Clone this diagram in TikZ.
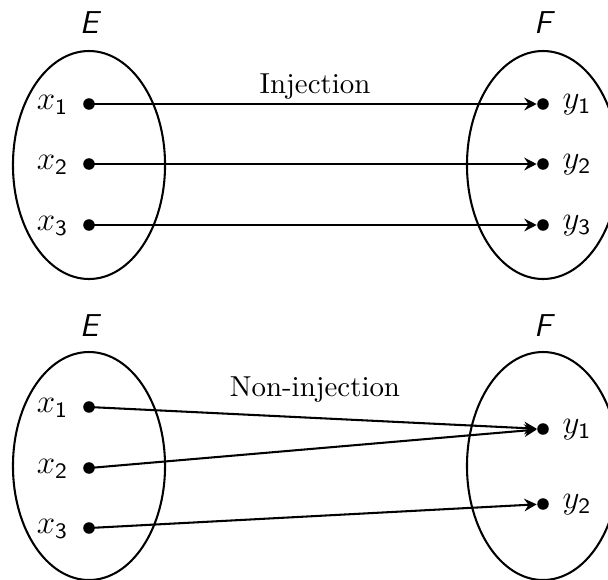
\documentclass[tikz,border=0pt]{standalone}
\usetikzlibrary{shapes.geometric,arrows.meta}
\begin{document}
\begin{tikzpicture}[x=0.3636pt,y=-0.3636pt,
  set/.style={draw,ellipse,line width=0.75pt,minimum width=55.3pt,minimum height=82.9pt,inner sep=0},
  pt/.style={circle,fill,inner sep=0,minimum size=4.2pt},
  lab/.style={font=\fontsize{12}{14}\selectfont},
  setname/.style={font=\fontsize{11.5}{13}\selectfont\sffamily\itshape},
  map/.style={line width=0.75pt,-{Stealth[length=4.5pt,width=4.6pt,inset=1.5pt]}},
  maptitle/.style={font=\fontsize{10.5}{12}\selectfont}]
\useasboundingbox (0,0) rectangle (608,579);
% top
\node[set] (E1) at (89,165) {};
\node[set] (F1) at (543,165) {};
\node[setname] (lE1) at (89,23) {E};
\node[setname] (lF1) at (543,23) {F};
\node[pt] (a1) at (89,104) {};
\node[pt] (a2) at (89,164) {};
\node[pt] (a3) at (89,225) {};
\node[pt] (b1) at (543,104) {};
\node[pt] (b2) at (543,164) {};
\node[pt] (b3) at (543,225) {};
\node[lab,anchor=east] (la1) at (78,105) {$x_{\mathsf{1}}$};
\node[lab,anchor=east] (la2) at (78,165) {$x_{\mathsf{2}}$};
\node[lab,anchor=east] (la3) at (78,226) {$x_{\mathsf{3}}$};
\node[lab,anchor=west] (lb1) at (553,105) {$y_{\mathsf{1}}$};
\node[lab,anchor=west] (lb2) at (553,165) {$y_{\mathsf{2}}$};
\node[lab,anchor=west] (lb3) at (553,226) {$y_{\mathsf{3}}$};
\draw[map] (a1.center) -- (b1);
\draw[map] (a2.center) -- (b2);
\draw[map] (a3.center) -- (b3);
\node[maptitle] (t1) at (315,87) {Injection};
% bottom
\node[set] (E2) at (89,466) {};
\node[set] (F2) at (543,466) {};
\node[setname] (lE2) at (89,326) {E};
\node[setname] (lF2) at (543,326) {F};
\node[pt] (c1) at (89,407) {};
\node[pt] (c2) at (89,468) {};
\node[pt] (c3) at (89,528) {};
\node[pt] (d1) at (543,429) {};
\node[pt] (d2) at (543,504) {};
\node[lab,anchor=east] (lc1) at (78,408) {$x_{\mathsf{1}}$};
\node[lab,anchor=east] (lc2) at (78,469) {$x_{\mathsf{2}}$};
\node[lab,anchor=east] (lc3) at (78,529) {$x_{\mathsf{3}}$};
\node[lab,anchor=west] (ld1) at (553,430) {$y_{\mathsf{1}}$};
\node[lab,anchor=west] (ld2) at (553,505) {$y_{\mathsf{2}}$};
\draw[map] (c1.center) -- (d1);
\draw[map] (c2.center) -- (d1);
\draw[map] (c3.center) -- (d2);
\node[maptitle] (t2) at (315,390) {Non-injection};
\end{tikzpicture}
\end{document}
